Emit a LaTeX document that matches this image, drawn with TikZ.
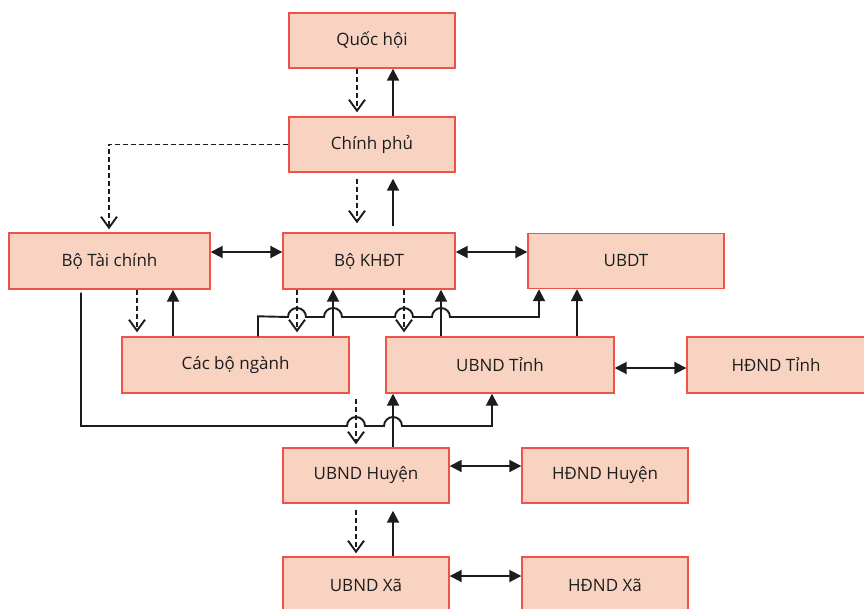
\documentclass[tikz,border=0pt]{standalone}
\usepackage{fontspec}
\setmainfont{Open Sans}
\usetikzlibrary{arrows.meta}
\definecolor{boxred}{HTML}{F0524A}
\definecolor{boxfill}{HTML}{F9D3C2}
\definecolor{ink}{HTML}{1C1C1C}
\tikzset{
  box/.style={draw=boxred, fill=boxfill, line width=1.4pt, inner sep=0pt,
    text=ink, font=\fontsize{17}{20}\selectfont},
  solidarr/.style={draw=ink, line width=1.9pt, -{Triangle[length=12pt,width=12pt]}},
  dasharr/.style={draw=ink, line width=1.9pt, dash pattern=on 5pt off 3pt,
    -{Straight Barb[length=11pt,width=16pt]}},
  biarr/.style={draw=ink, line width=1.9pt,
    {Triangle[length=12pt,width=12pt]}-{Triangle[length=12pt,width=12pt]}},
}
\begin{document}
\begin{tikzpicture}[x=1pt,y=-1pt]
\useasboundingbox (0,0) rectangle (864,608);
\clip (0,0) rectangle (864,608);

% organisations
\node[box, minimum width=166, minimum height=55] (qh) at (372,40.5) {Quốc hội};
\node[box, minimum width=166, minimum height=55] (cp) at (372,144.5) {Chính phủ};
\node[box, minimum width=201, minimum height=56] (btc) at (109.5,261) {Bộ Tài chính};
\node[box, minimum width=172, minimum height=56] (kh) at (369,261) {Bộ KHĐT};
\node[box, minimum width=196, minimum height=55] (ubdt) at (626,261) {UBDT};
\node[box, minimum width=227, minimum height=56] (cbn) at (235.5,365) {Các bộ ngành};
\node[box, minimum width=228, minimum height=56] (ut) at (500,365) {UBND Tỉnh};
\node[box, minimum width=178, minimum height=56] (ht) at (776,365) {HĐND Tỉnh};
\node[box, minimum width=166, minimum height=55] (uh) at (366,475.5) {UBND Huyện};
\node[box, minimum width=166, minimum height=55] (hh) at (605,475.5) {HĐND Huyện};
\node[box, minimum width=166, minimum height=56] (ux) at (366,585) {UBND Xã};
\node[box, minimum width=166, minimum height=56] (hx) at (605,585) {HĐND Xã};

% Quốc hội -- Chính phủ
\draw[dasharr, shorten >=4pt] ([xshift=-15pt]qh.south) -- ([xshift=-15pt]cp.north);
\draw[solidarr] ([xshift=21pt]cp.north) -- ([xshift=21pt]qh.south);

% Chính phủ -- Bộ KHĐT
\draw[dasharr, shorten <=6pt, shorten >=9pt] ([xshift=-15pt]cp.south) -- ([xshift=-12pt]kh.north);
\draw[solidarr, shorten <=6pt, shorten >=6pt] ([xshift=24pt]kh.north) -- ([xshift=21pt]cp.south);

% Chính phủ -- Bộ Tài chính
\draw[dasharr, shorten >=3pt] (cp.west) -| ([xshift=-0.5pt]btc.north);

% horizontal links
\draw[biarr] ([yshift=9pt]btc.east) -- ([yshift=9pt]kh.west);
\draw[biarr] ([yshift=9pt]kh.east) -- ([yshift=9pt]ubdt.west);
\draw[biarr] ([yshift=-3pt]ut.east) -- ([yshift=-3pt]ht.west);
\draw[biarr] ([yshift=9.5pt]uh.east) -- ([yshift=9.5pt]hh.west);
\draw[biarr] ([yshift=9pt]ux.east) -- ([yshift=9pt]hx.west);

% Bộ Tài chính -- Các bộ ngành
\draw[dasharr, shorten >=4pt] ([xshift=27.5pt]btc.south) -- ([xshift=-98.5pt]cbn.north);
\draw[solidarr] ([xshift=-62.5pt]cbn.north) -- ([xshift=63.5pt]btc.south);

% Bộ KHĐT -- Các bộ ngành, UBND Tỉnh
\draw[dasharr, shorten >=4pt] ([xshift=-72pt]kh.south) -- ([xshift=61.5pt]cbn.north);
\draw[solidarr] ([xshift=97.5pt]cbn.north) -- ([xshift=-36pt]kh.south);
\draw[dasharr, shorten >=4pt] ([xshift=35pt]kh.south) -- ([xshift=-96pt]ut.north);
\draw[solidarr] ([xshift=-59pt]ut.north) -- ([xshift=72pt]kh.south);

% UBND Tỉnh -- UBDT
\draw[solidarr] ([xshift=77pt]ut.north) -- ([xshift=-49pt]ubdt.south);

% Các bộ ngành -- UBDT, hopping over the crossing lines
\draw[solidarr] ([xshift=22.5pt]cbn.north) -- ++(0,-20) -- (288,317)
  arc[start angle=180, end angle=360, radius=9] -- (324,317)
  arc[start angle=180, end angle=360, radius=9] -- (395,317)
  arc[start angle=180, end angle=360, radius=9] -- (432,317)
  arc[start angle=180, end angle=360, radius=9] -- (539,317)
  -- ([xshift=-87pt]ubdt.south);

% Bộ Tài chính -- UBND Tỉnh, hopping over the crossing lines
\draw[solidarr, shorten <=3pt] ([xshift=-28.5pt]btc.south) -- (81,426) -- (347,426)
  arc[start angle=180, end angle=360, radius=9] -- (384,426)
  arc[start angle=180, end angle=360, radius=9] -- (492,426)
  -- ([xshift=-8pt]ut.south);

% UBND Tỉnh -- UBND Huyện
\draw[dasharr, shorten <=5pt, shorten >=3pt] ([xshift=-144pt]ut.south) -- ([xshift=-10pt]uh.north);
\draw[solidarr] ([xshift=27pt]uh.north) -- ([xshift=-107pt]ut.south);

% UBND Huyện -- UBND Xã
\draw[dasharr, shorten <=6pt, shorten >=3pt] ([xshift=-10pt]uh.south) -- ([xshift=-10pt]ux.north);
\draw[solidarr, shorten >=7pt] ([xshift=27pt]ux.north) -- ([xshift=27pt]uh.south);
\end{tikzpicture}
\end{document}
